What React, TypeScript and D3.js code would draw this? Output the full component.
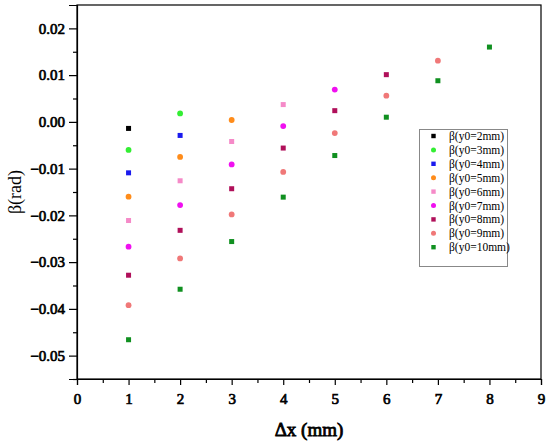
import { useEffect, useRef } from "react";
import * as d3 from "d3";

interface Series {
  label: string;
  color: string;
  shape: "square" | "circle";
  x: number[];
  y: number[];
}

// β values, one series per y0
const labels = [
  "β(y0=2mm)",
  "β(y0=3mm)",
  "β(y0=4mm)",
  "β(y0=5mm)",
  "β(y0=6mm)",
  "β(y0=7mm)",
  "β(y0=8mm)",
  "β(y0=9mm)",
  "β(y0=10mm)",
];
const colors = [
  "#000000",
  "#33ee33",
  "#1a1aee",
  "#ff8c1a",
  "#f58ac8",
  "#f010f0",
  "#b0105a",
  "#f07878",
  "#109020",
];
const shapes: ("square" | "circle")[] = [
  "square",
  "circle",
  "square",
  "circle",
  "square",
  "circle",
  "square",
  "circle",
  "square",
];
const xs2 = [1];
const ys2 = [-0.0014];
const xs3 = [1, 2];
const ys3 = [-0.006, 0.0018];
const xs4 = [1, 2];
const ys4 = [-0.0109, -0.0029];
const xs5 = [1, 2, 3];
const ys5 = [-0.016, -0.0075, 0.0004];
const xs6 = [1, 2, 3, 4];
const ys6 = [-0.0211, -0.0126, -0.0042, 0.0037];
const xs7 = [1, 2, 3, 4, 5];
const ys7 = [-0.0267, -0.0178, -0.0091, -0.0009, 0.0069];
const xs8 = [1, 2, 3, 4, 5, 6];
const ys8 = [-0.0328, -0.0232, -0.0143, -0.0056, 0.0024, 0.0101];
const xs9 = [1, 2, 3, 4, 5, 6, 7];
const ys9 = [-0.0392, -0.0292, -0.0198, -0.0107, -0.0024, 0.0056, 0.0131];
const xs10 = [1, 2, 3, 4, 5, 6, 7, 8];
const ys10 = [-0.0466, -0.0358, -0.0256, -0.0161, -0.0072, 0.001, 0.0088, 0.016];

const xTicks = [0, 1, 2, 3, 4, 5, 6, 7, 8, 9];
const yTicks = [0.02, 0.01, 0, -0.01, -0.02, -0.03, -0.04, -0.05];

const allX = [xs2, xs3, xs4, xs5, xs6, xs7, xs8, xs9, xs10];
const allY = [ys2, ys3, ys4, ys5, ys6, ys7, ys8, ys9, ys10];

const series: Series[] = labels.map((label, i) => ({
  label,
  color: colors[i],
  shape: shapes[i],
  x: allX[i],
  y: allY[i],
}));

const width = 550;
const height = 444;
const margin = { top: 5, right: 9, bottom: 65, left: 77 };
const font = "Liberation Serif, Times New Roman, serif";

function fmt(v: number) {
  const s = Math.abs(v).toFixed(2);
  return v < 0 ? "\u2212" + s : s;
}

// heavy serif look without depending on a bold face
function boldish(sel: d3.Selection<any, any, any, any>, size: number) {
  sel
    .attr("font-family", font)
    .attr("font-size", size)
    .attr("font-weight", "normal")
    .attr("fill", "#000")
    .attr("stroke", "#000")
    .attr("stroke-width", 0.7);
}

export default function App() {
  const ref = useRef<SVGSVGElement>(null);

  useEffect(() => {
    if (!ref.current) return;
    const svg = d3.select(ref.current);
    svg.selectAll("*").remove();

    const w = width - margin.left - margin.right;
    const h = height - margin.top - margin.bottom;

    const x = d3.scaleLinear().domain([0, 9]).range([0, w]);
    const y = d3.scaleLinear().domain([-0.055, 0.025]).range([h, 0]);

    const g = svg
      .append("g")
      .attr("transform", `translate(${margin.left},${margin.top})`);

    // frame
    g.append("rect")
      .attr("width", w)
      .attr("height", h)
      .attr("fill", "none")
      .attr("stroke", "#000")
      .attr("stroke-width", 1.2);

    // x axis
    const xAxis = g
      .append("g")
      .attr("transform", `translate(0,${h})`)
      .call(d3.axisBottom(x).tickValues(xTicks).tickSize(6).tickFormat(d3.format("d")));
    g.append("g")
      .attr("transform", `translate(0,${h})`)
      .call(
        d3
          .axisBottom(x)
          .tickValues(d3.range(0.5, 9, 1))
          .tickSize(4)
          .tickFormat(() => "")
      )
      .call((a) => a.select(".domain").remove())
      .selectAll("line")
      .attr("stroke-width", 1.2);
    xAxis.select(".domain").attr("stroke-width", 1.2);
    xAxis.selectAll("line").attr("stroke-width", 1.2);
    boldish(xAxis.selectAll("text").attr("dy", "1.05em"), 15);

    // y axis
    const yAxis = g
      .append("g")
      .call(
        d3
          .axisLeft(y)
          .tickValues(yTicks)
          .tickSize(8)
          .tickFormat((d) => fmt(d as number))
      );
    g.append("g")
      .call(
        d3
          .axisLeft(y)
          .tickValues(d3.range(-0.055, 0.025, 0.01))
          .tickSize(4)
          .tickFormat(() => "")
      )
      .call((a) => a.select(".domain").remove())
      .selectAll("line")
      .attr("stroke-width", 1.2);
    yAxis.select(".domain").attr("stroke-width", 1.2);
    yAxis.selectAll("line").attr("stroke-width", 1.2);
    boldish(yAxis.selectAll("text").attr("x", -12), 15);

    // axis titles
    const xt = svg
      .append("text")
      .attr("x", margin.left + w / 2)
      .attr("y", 436)
      .attr("text-anchor", "middle")
      .text("Δx (mm)");
    boldish(xt, 19);
    xt.attr("stroke-width", 0.8);

    svg
      .append("text")
      .attr("transform", `translate(21,${margin.top + y(-0.015)}) rotate(-90)`)
      .attr("text-anchor", "middle")
      .attr("font-family", font)
      .attr("font-size", 18)
      .text("β(rad)");

    // points
    const sq = 5;
    series.forEach((s) => {
      const pts = s.x.map((xv, i) => [xv, s.y[i]] as [number, number]);
      if (s.shape === "square") {
        g.selectAll(null)
          .data(pts)
          .enter()
          .append("rect")
          .attr("x", (d) => x(d[0]) - sq / 2)
          .attr("y", (d) => y(d[1]) - sq / 2)
          .attr("width", sq)
          .attr("height", sq)
          .attr("fill", s.color);
      } else {
        g.selectAll(null)
          .data(pts)
          .enter()
          .append("circle")
          .attr("cx", (d) => x(d[0]))
          .attr("cy", (d) => y(d[1]))
          .attr("r", 2.9)
          .attr("fill", s.color);
      }
    });

    // legend
    const lg = svg.append("g").attr("transform", "translate(419.5,129.5)");
    lg.append("rect")
      .attr("width", 88)
      .attr("height", 137)
      .attr("fill", "#fff")
      .attr("stroke", "#888")
      .attr("stroke-width", 1);
    series.forEach((s, i) => {
      const cy = 6.5 + i * 13.9;
      if (s.shape === "square") {
        lg.append("rect")
          .attr("x", 14 - 2.2)
          .attr("y", cy - 2.2)
          .attr("width", 4.4)
          .attr("height", 4.4)
          .attr("fill", s.color);
      } else {
        lg.append("circle")
          .attr("cx", 14)
          .attr("cy", cy)
          .attr("r", 2.5)
          .attr("fill", s.color);
      }
      lg.append("text")
        .attr("x", 29.5)
        .attr("y", cy + 4)
        .attr("font-family", font)
        .attr("font-size", 11.5)
        .text(s.label);
    });
  }, []);

  return (
    <div style={{ position: "absolute", left: 0, top: 0 }}>
      <svg ref={ref} width={width} height={height} style={{ display: "block", background: "#fff" }} />
    </div>
  );
}
